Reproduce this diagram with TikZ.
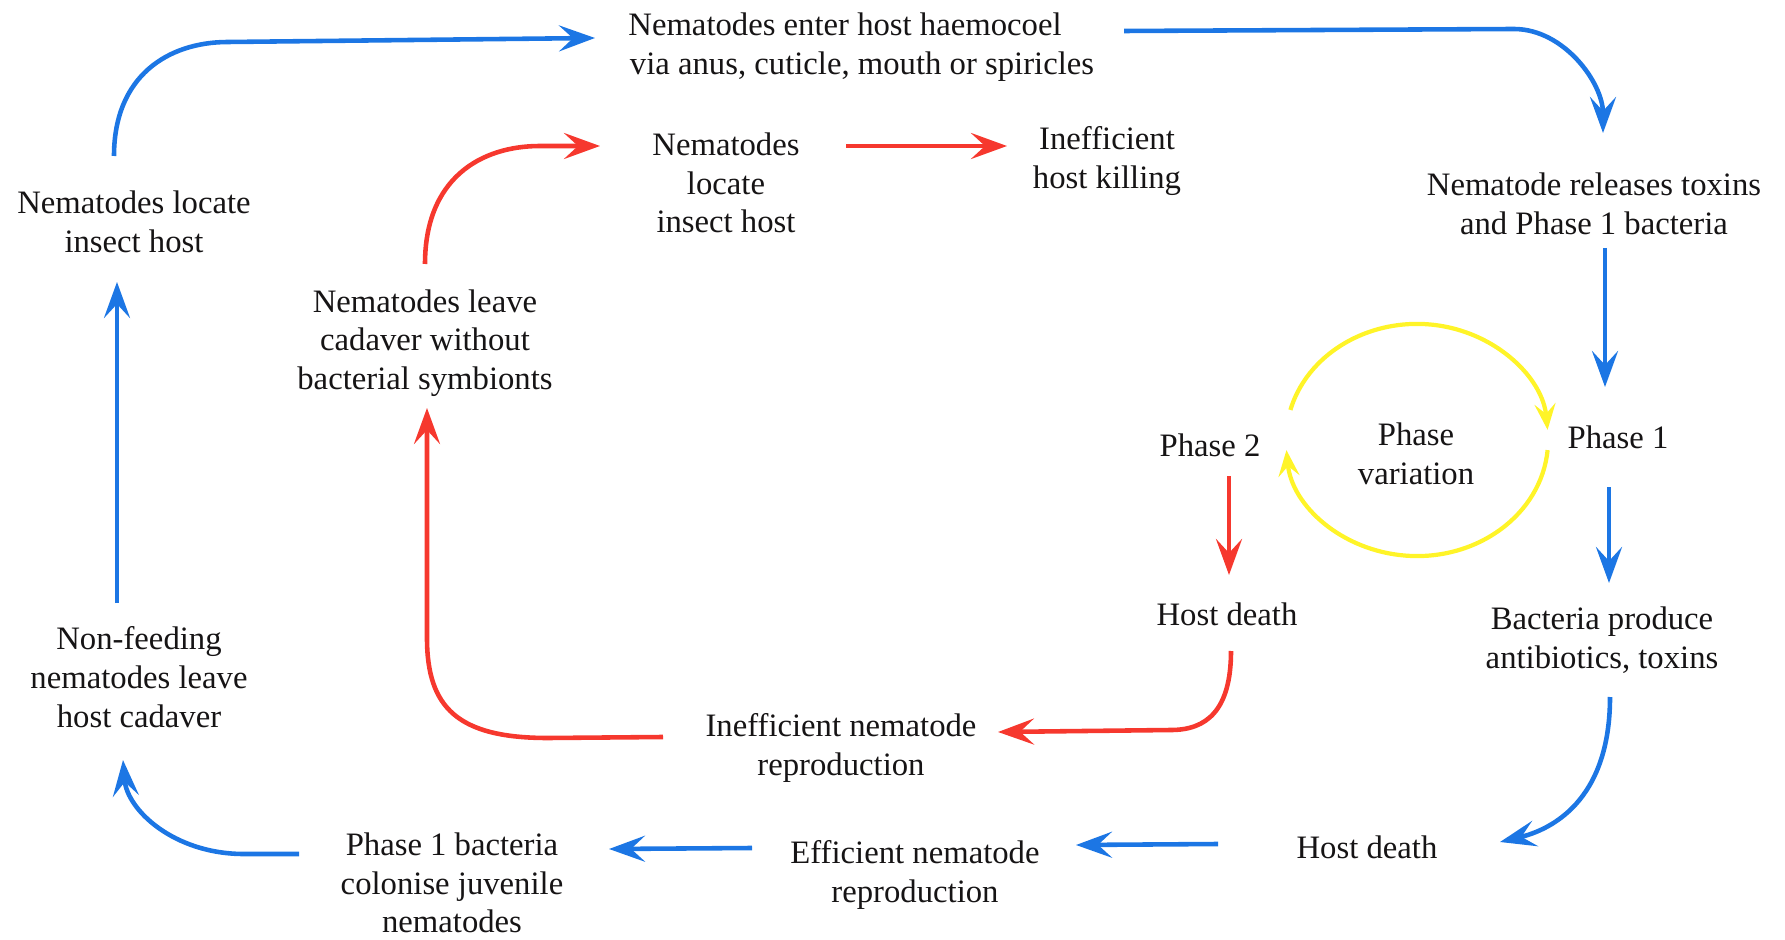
\documentclass[tikz,border=0pt]{standalone}
\usepackage{fontspec}
\setmainfont{Liberation Serif}
\usetikzlibrary{arrows.meta}

\definecolor{txt}{RGB}{22,20,21}
\definecolor{arrblue}{RGB}{28,118,228}
\definecolor{arrred}{RGB}{246,56,46}
\definecolor{arryellow}{RGB}{255,244,40}

\tikzset{
  lbl/.style={align=center, inner sep=0pt, text=txt, font=\fontsize{9.3}{11}\selectfont},
  bluearr/.style={draw=arrblue, line width=1.3pt, -{Stealth[length=3.6mm,width=2.6mm,inset=1.4mm]}},
  redarr/.style={draw=arrred, line width=1.3pt, -{Stealth[length=3.6mm,width=2.6mm,inset=1.4mm]}},
  yelarr/.style={draw=arryellow, line width=1.2pt, -{Stealth[length=2.6mm,width=2.1mm,inset=1mm]}},
}

\begin{document}
\begin{tikzpicture}[x=0.01cm, y=-0.01cm]
\useasboundingbox (0,0) rectangle (1785,940);

% stages of the life cycle
\node[lbl] (enter)    at (862,47)  {Nematodes enter host haemocoel\hspace*{0.34cm}\\via anus, cuticle, mouth or spiricles};
\node[lbl] (locate)   at (134,222) {Nematodes locate\\insect host};
\node[lbl] (locateb)  at (726,183) {Nematodes\\locate\\insect host};
\node[lbl] (inefkill) at (1107,161) {Inefficient\\host killing};
\node[lbl] (release)  at (1594,204) {Nematode releases toxins\\and Phase 1 bacteria};
\node[lbl] (leave)    at (425,343) {Nematodes leave\\cadaver without\\bacterial symbionts};
\node[lbl] (phtwo)    at (1210,445) {Phase 2};
\node[lbl] (phvar)    at (1416,454) {Phase\\variation};
\node[lbl] (phone)    at (1618,437) {Phase 1};
\node[lbl] (deathb)   at (1227,614) {Host death};
\node[lbl] (bact)     at (1602,640) {Bacteria produce\\antibiotics, toxins};
\node[lbl] (inrep)    at (841,748) {Inefficient nematode\\reproduction};
\node[lbl] (nonfeed)  at (139,677) {Non-feeding\\nematodes leave\\host cadaver};
\node[lbl] (deatha)   at (1367,847) {Host death};
\node[lbl] (effrep)   at (915,875) {Efficient nematode\\reproduction};
\node[lbl] (colon)    at (452,883) {Phase 1 bacteria\\colonise juvenile\\nematodes};

% efficient (blue) cycle
\draw[bluearr] ([shift={(-20,-66)}]locate.center) .. controls +(0,-80) and +(-60,0) .. ++(114,-114)
  -- ([shift={(-267,-9)}]enter.center);
\draw[bluearr] ([shift={(262,-16)}]enter.center) -- ++(390,-2) .. controls +(50,0) and +(0,-50) ..
  ([shift={(9,-71)}]release.center);
\draw[bluearr] ([shift={(11,44)}]release.center) -- ([shift={(-13,-50)}]phone.center);
\draw[bluearr] ([shift={(-9,50)}]phone.center) -- ([shift={(7,-57)}]bact.center);
\draw[bluearr] ([shift={(8,57)}]bact.center) .. controls +(0,105) and +(50,-12) ..
  ([shift={(133,-5)}]deatha.center);
\draw[bluearr] ([shift={(-149,-3)}]deatha.center) -- ([shift={(161,-30)}]effrep.center);
\draw[bluearr] ([shift={(-163,-27)}]effrep.center) -- ([shift={(157,-34)}]colon.center);
\draw[bluearr] ([shift={(-153,-29)}]colon.center) -- ++(-55,0) .. controls +(-70,0) and +(4,50) ..
  ([shift={(-16,83)}]nonfeed.center);
\draw[bluearr] ([shift={(-22,-74)}]nonfeed.center) -- ([shift={(-17,60)}]locate.center);

% inefficient (red) cycle
\draw[redarr] ([shift={(0,-79)}]leave.center) .. controls +(0,-85) and +(-60,0) .. ++(115,-118)
  -- ([shift={(-126,-37)}]locateb.center);
\draw[redarr] ([shift={(120,-37)}]locateb.center) -- ([shift={(-100,-15)}]inefkill.center);
\draw[redarr] ([shift={(19,31)}]phtwo.center) -- ([shift={(2,-39)}]deathb.center);
\draw[redarr] ([shift={(4,37)}]deathb.center) .. controls +(0,60) and +(35,0) .. ++(-60,79)
  -- ([shift={(157,-16)}]inrep.center);
\draw[redarr] ([shift={(-178,-11)}]inrep.center) -- ++(-115,1) .. controls +(-90,0) and +(0,70) .. ++(-121,-100)
  -- ([shift={(2,65)}]leave.center);

% phase variation loop
\coordinate (pvc) at ([shift={(1,-14)}]phvar.center);
\draw[yelarr] (pvc) ++(165:1.31cm and 1.16cm)
  arc[start angle=165, end angle=5, x radius=1.31cm, y radius=1.16cm];
\draw[yelarr] (pvc) ++(-5:1.31cm and 1.16cm)
  arc[start angle=-5, end angle=-175, x radius=1.31cm, y radius=1.16cm];
\end{tikzpicture}
\end{document}
